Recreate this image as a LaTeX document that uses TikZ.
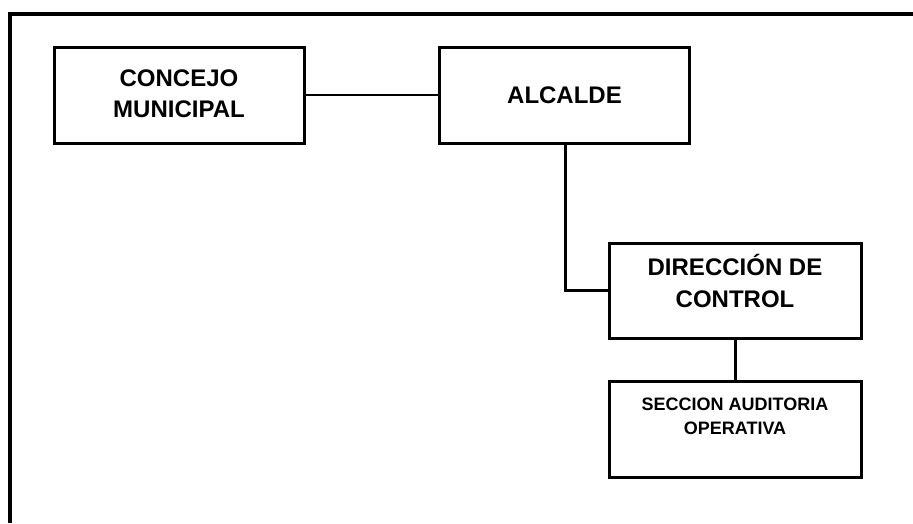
\documentclass[tikz,border=0pt]{standalone}
\usepackage{fontspec}
\setmainfont{Liberation Sans}
\usepackage{tikz}
\usetikzlibrary{positioning,calc}

\begin{document}
\begin{tikzpicture}[x=1pt,y=-1pt]
        % Define the styles for the boxes and the lines
        \tikzstyle{unitbox}=[draw, line width=3pt, minimum width=250pt, minimum height=96pt, align=center, inner sep=0pt];
        \tikzstyle{bigtext}=[font=\bfseries\fontsize{24}{31}\selectfont];
        \tikzstyle{smalltext}=[font=\bfseries\fontsize{18}{24}\selectfont];
        \tikzstyle{link}=[line width=3pt];

        \useasboundingbox (0,0) rectangle (913,523);

        % Outer frame (top and left side only)
        \draw[line width=4pt] (10,523) |- (913,14);

        % Define the coordinates for the boxes
        \coordinate (C) at (179,95);
        \coordinate (A) at (564.5,95);
        \coordinate (D) at (735,290.5);
        \coordinate (S) at (735,429);

        % Draw the boxes with labels
        \node[unitbox, bigtext, text height=47.3pt, text depth=2.7pt] (concejo) at (C) {CONCEJO\\MUNICIPAL};
        \node[unitbox, bigtext, text height=17pt, text depth=0pt] (alcalde) at (A) {ALCALDE};
        \node[unitbox, bigtext, minimum width=252pt, minimum height=95pt, font=\bfseries\fontsize{24}{32}\selectfont, text height=49pt, text depth=16pt] (direccion) at (D) {DIRECCIÓN DE\\CONTROL};
        \node[unitbox, smalltext, minimum width=252pt, text height=37pt, text depth=27pt] (seccion) at (S) {SECCION AUDITORIA\\OPERATIVA};

        % Connect the boxes
        \draw[line width=2.2pt] (concejo.east) -- (alcalde.west);
        \draw[link] ($(alcalde.south)+(1,0)$) |- (direccion.west);
        \draw[link] (direccion.south) -- (seccion.north);
    \end{tikzpicture}
\end{document}
